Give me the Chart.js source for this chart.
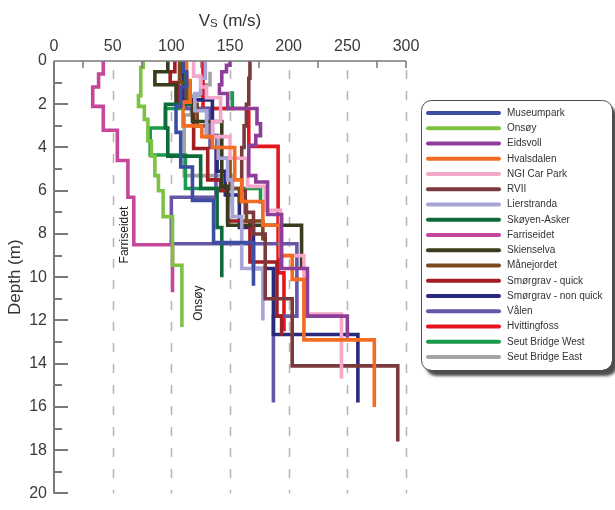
<!DOCTYPE html>
<html>
<head>
<meta charset="utf-8">
<script src="https://cdn.jsdelivr.net/npm/chart.js@4.4.0/dist/chart.umd.min.js"></script>
<style>
  body { margin: 0; background: #fff; }
  #wrap { width: 615px; height: 510px; }
</style>
</head>
<body>
<div id="wrap"><canvas id="chart" width="615" height="510"></canvas></div>
<script>
// Sites (legend order) and their colours
const sites = ["Museumpark", "Onsøy", "Eidsvoll", "Hvalsdalen", "NGI Car Park", "RVII",
  "Lierstranda", "Skøyen-Asker", "Farriseidet", "Skienselva", "Månejordet",
  "Smørgrav - quick", "Smørgrav - non quick", "Vålen", "Hvittingfoss",
  "Seut Bridge West", "Seut Bridge East"];
const colors = ["#3c4ea2", "#7dc242", "#8c3e98", "#f26c22", "#f4a7c9", "#7a3a3c",
  "#a6a4d8", "#0d6b39", "#c6469a", "#3b3b1e", "#7a4a1f",
  "#a21e23", "#2a2a7c", "#6755a7", "#e5151e", "#1a9b4b", "#a3a3a3"];

// Vs of each layer (m/s) and layer boundaries (m); first depth = top of profile
const vsMuseumpark = [110, 113, 108, 104, 108, 118, 136, 170];
const zMuseumpark = [0, 0.5, 1.2, 2.1, 3.3, 4.9, 6.45, 8.4, 10.4];
const vsOnsoy = [76, 74, 72, 77, 80, 83, 86, 89, 93, 101, 109];
const zOnsoy = [0, 0.3, 1.6, 2.1, 2.7, 3.7, 4.4, 5.3, 6.0, 7.2, 9.45, 12.3];
const vsEidsvoll = [150, 147, 143, 141, 148, 173, 176, 172, 166, 172, 182, 194, 216, 250];
const zEidsvoll = [0, 0.2, 0.5, 1.1, 1.5, 2.2, 2.9, 3.45, 3.9, 5.3, 5.6, 7.1, 9.6, 11.8, 12.8];
const vsHvalsdalen = [113, 116, 110, 126, 135, 154, 160, 178, 193, 203, 213, 273];
const zHvalsdalen = [0, 0.9, 1.9, 3.0, 3.5, 4.0, 5.5, 6.5, 7.6, 9.0, 10.1, 12.9, 16.0];
const vsNgi = [119, 125, 130, 142, 135, 150, 165, 180, 193, 213, 245];
const zNgi = [0, 0.7, 1.2, 1.7, 2.8, 3.5, 4.5, 5.8, 6.9, 9.0, 11.7, 14.7];
const vsRvii = [167, 166, 164, 162, 160, 163, 170, 180, 203, 293];
const zRvii = [0, 0.8, 2.0, 3.0, 4.0, 6.0, 7.0, 8.0, 11.0, 14.1, 17.6];
const vsLierstranda = [129, 125, 120, 130, 140, 148, 152, 160, 178];
const zLierstranda = [0, 0.8, 1.5, 2.3, 3.5, 4.5, 5.5, 7.2, 9.6, 12.0];
const vsSkoyen = [112, 116, 95, 97, 125, 139, 143];
const zSkoyen = [0, 1.0, 2.0, 3.1, 4.4, 5.9, 7.7, 10.0];
const vsFarriseidet = [42, 38, 33, 42, 54, 63, 68, 101];
const zFarriseidet = [0, 0.6, 1.2, 2.1, 3.2, 4.6, 6.3, 8.5, 10.7];
const vsSkienselva = [97, 86, 104, 118, 143, 148, 211];
const zSkienselva = [0, 0.5, 1.1, 2.0, 2.8, 5.8, 7.6, 9.6];
const vsManejordet = [107, 113, 122, 130, 140, 150, 158, 164, 178];
const zManejordet = [0, 1.0, 2.0, 3.0, 3.5, 4.5, 5.9, 6.5, 7.4, 8.3];
const vsSmorgravQ = [103, 99, 106, 119, 131, 142, 148, 167, 190, 194];
const zSmorgravQ = [0, 0.5, 1.0, 1.9, 4.05, 5.5, 6.0, 7.4, 9.3, 11.8, 12.7];
const vsSmorgravNQ = [110, 135, 139, 146, 158, 170, 187, 259];
const zSmorgravNQ = [0, 1.8, 3.45, 5.1, 6.2, 7.7, 9.6, 12.65, 15.8];
const vsValen = [110, 113, 133, 138, 100, 207, 187];
const zValen = [0, 0.6, 2.2, 4.0, 6.3, 8.45, 11.8, 15.8];
const vsHvittingfoss = [127, 166, 191, 196];
const zHvittingfoss = [0, 2.2, 3.95, 9.8, 12.5];
const vsSeutWest = [152, 95, 82, 112, 176];
const zSeutWest = [1.4, 2.2, 3.1, 4.35, 5.9, 6.6];
const vsSeutEast = [133, 127, 117, 111, 152];
const zSeutEast = [0.5, 1.1, 1.6, 2.5, 5.3, 7.0];

const vsAll = [vsMuseumpark, vsOnsoy, vsEidsvoll, vsHvalsdalen, vsNgi, vsRvii, vsLierstranda,
  vsSkoyen, vsFarriseidet, vsSkienselva, vsManejordet, vsSmorgravQ, vsSmorgravNQ, vsValen,
  vsHvittingfoss, vsSeutWest, vsSeutEast];
const zAll = [zMuseumpark, zOnsoy, zEidsvoll, zHvalsdalen, zNgi, zRvii, zLierstranda,
  zSkoyen, zFarriseidet, zSkienselva, zManejordet, zSmorgravQ, zSmorgravNQ, zValen,
  zHvittingfoss, zSeutWest, zSeutEast];

// in-plot labels
const noteText = ["Farriseidet", "Onsøy"];
const noteVs = [60, 123];
const noteDepth = [8.05, 11.2];

const xTicks = [0, 50, 100, 150, 200, 250, 300];

const FONT = "'Liberation Sans', Arial, sans-serif";
Chart.defaults.font.family = FONT;

// profile points, drawn with stepped:'after' -> vertical inside a layer, horizontal at boundary
function profile(vs, z) {
  let pts = vs.map((v, i) => ({ x: v, y: z[i] }));
  pts.push({ x: vs[vs.length - 1], y: z[z.length - 1] });
  return pts;
}

const datasets = sites.map((name, i) => ({
  label: name,
  data: profile(vsAll[i], zAll[i]),
  borderColor: colors[i],
  backgroundColor: colors[i],
  borderWidth: 3.6,
  showLine: true,
  stepped: "after",
  pointRadius: 0,
  borderCapStyle: "butt",
  borderJoinStyle: "miter",
}));

// dashed grid, inner ticks and axis lines
const axesPlugin = {
  id: "axesPlugin",
  beforeDatasetsDraw(chart) {
    const { ctx, chartArea: a, scales: { x } } = chart;
    ctx.save();
    ctx.strokeStyle = "#b5b5b5";
    ctx.lineWidth = 1.5;
    ctx.setLineDash([9, 12]);
    ctx.lineDashOffset = 12;
    xTicks.slice(1).forEach(v => {
      const px = Math.round(x.getPixelForValue(v)) + 0.5;
      ctx.beginPath();
      ctx.moveTo(px, a.top);
      ctx.lineTo(px, a.bottom);
      ctx.stroke();
    });
    ctx.restore();
  },
  afterDatasetsDraw(chart) {
    const { ctx, chartArea: a, scales: { x, y } } = chart;
    ctx.save();
    ctx.strokeStyle = "#7a7a7a";
    ctx.lineWidth = 2;
    // y axis with ticks every metre
    ctx.beginPath();
    ctx.moveTo(a.left, a.top);
    ctx.lineTo(a.left, a.bottom);
    for (let d = 1; d <= 20; d++) {
      const py = Math.round(y.getPixelForValue(d));
      ctx.moveTo(a.left, py);
      ctx.lineTo(a.left + (d % 2 === 0 ? 14 : 8), py);
    }
    ctx.stroke();
    // top axis with minor ticks
    ctx.lineWidth = 1.5;
    ctx.beginPath();
    ctx.moveTo(a.left, a.top);
    ctx.lineTo(a.right, a.top);
    for (let v = 25; v <= 300; v += 50) {
      const px = Math.round(x.getPixelForValue(v));
      ctx.moveTo(px, a.top);
      ctx.lineTo(px, a.top + 7);
    }
    const p300 = Math.round(x.getPixelForValue(300));
    ctx.moveTo(p300, a.top);
    ctx.lineTo(p300, a.top + 7);
    ctx.stroke();

    // x title V_S (m/s)
    ctx.fillStyle = "#333";
    ctx.textBaseline = "alphabetic";
    ctx.font = "17px " + FONT;
    const wV = ctx.measureText("V").width;
    const wR = ctx.measureText(" (m/s)").width;
    ctx.font = "11.5px " + FONT;
    const wS = ctx.measureText("S").width;
    let sx = (a.left + a.right) / 2 - (wV + wS + wR) / 2;
    ctx.font = "17px " + FONT;
    ctx.fillText("V", sx, 26);
    ctx.font = "11.5px " + FONT;
    ctx.fillText("S", sx + wV, 27);
    ctx.font = "17px " + FONT;
    ctx.fillText(" (m/s)", sx + wV + wS, 26);

    // rotated site notes
    ctx.font = "12px " + FONT;
    ctx.fillStyle = "#222";
    ctx.textAlign = "center";
    ctx.textBaseline = "middle";
    noteText.forEach((t, i) => {
      ctx.save();
      ctx.translate(x.getPixelForValue(noteVs[i]), y.getPixelForValue(noteDepth[i]));
      ctx.rotate(-Math.PI / 2);
      ctx.fillText(t, 0, 0);
      ctx.restore();
    });
    ctx.restore();
  },
  afterDraw(chart) {
    // legend box
    const ctx = chart.ctx;
    const bx = 421, by = 100, bw = 191, bh = 270, r = 10;
    ctx.save();
    ctx.shadowColor = "rgba(0,0,0,0.7)";
    ctx.shadowBlur = 3;
    ctx.shadowOffsetX = 5;
    ctx.shadowOffsetY = 6;
    ctx.fillStyle = "#fff";
    ctx.beginPath();
    ctx.roundRect(bx, by, bw, bh, r);
    ctx.fill();
    ctx.restore();
    ctx.save();
    ctx.strokeStyle = "#4d4d4d";
    ctx.lineWidth = 1;
    ctx.beginPath();
    ctx.roundRect(bx + 0.5, by + 0.5, bw, bh, r);
    ctx.stroke();
    ctx.font = "10px " + FONT;
    ctx.textBaseline = "middle";
    ctx.lineCap = "round";
    ctx.lineWidth = 4;
    chart.data.datasets.forEach((ds, i) => {
      const ly = 113 + i * 15.25;
      ctx.strokeStyle = ds.borderColor;
      ctx.beginPath();
      ctx.moveTo(428, ly);
      ctx.lineTo(499, ly);
      ctx.stroke();
      ctx.fillStyle = "#333";
      ctx.fillText(ds.label, 507, ly);
    });
    ctx.restore();
  }
};

new Chart(document.getElementById("chart"), {
  type: "scatter",
  data: { datasets: datasets },
  options: {
    responsive: false,
    animation: false,
    devicePixelRatio: 1,
    layout: { padding: { left: 0, top: 0, right: 209, bottom: 9 } },
    plugins: { legend: { display: false }, tooltip: { enabled: false } },
    scales: {
      x: {
        type: "linear",
        position: "top",
        min: 0,
        max: 300,
        afterFit: s => { s.height = 61; },
        afterBuildTicks: s => { s.ticks = xTicks.map(v => ({ value: v })); },
        border: { display: false },
        grid: { display: false, drawTicks: false },
        ticks: { padding: 5, color: "#3a3a3a", font: { size: 16 }, maxRotation: 0 },
      },
      y: {
        type: "linear",
        min: 0,
        max: 20,
        reverse: true,
        afterFit: s => { s.width = 54; },
        border: { display: false },
        grid: { display: false, drawTicks: false },
        ticks: { stepSize: 2, padding: 7, color: "#3a3a3a", font: { size: 16 } },
        title: { display: true, text: "Depth (m)", color: "#333", font: { size: 17 }, padding: { top: 5, bottom: 0 } },
      },
    },
  },
  plugins: [axesPlugin],
});
</script>
</body>
</html>
